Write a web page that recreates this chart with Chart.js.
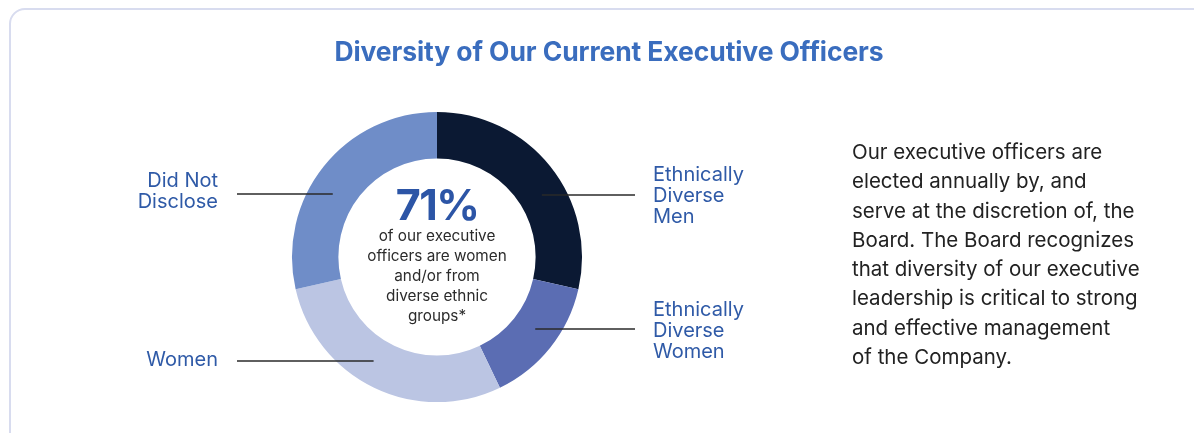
<!DOCTYPE html>
<html>
<head>
<meta charset="utf-8">
<script src="https://cdn.jsdelivr.net/npm/chart.js@4.4.1/dist/chart.umd.min.js"></script>
<style>
  html,body{margin:0;padding:0;background:#fff;width:1194px;height:433px;overflow:hidden;font-family:Inter,"Liberation Sans",sans-serif;}
  .card{position:absolute;left:9px;top:8px;width:1220px;height:460px;border:2px solid #d8dcef;border-radius:16px;box-sizing:border-box;}
  #wrap{position:absolute;left:0;top:0;width:1194px;height:433px;}
  .t{position:absolute;white-space:nowrap;}
  #title{left:0;width:1218px;text-align:center;top:38px;font-size:26.5px;line-height:26.5px;font-weight:700;color:#3a6dbe;letter-spacing:-0.1px;}
  .lbl{font-size:20px;line-height:21px;color:#2f5aa7;}
  .lbl.l{text-align:right;}
  #big{left:337px;width:200px;text-align:center;top:183px;font-size:43px;line-height:43px;font-weight:700;color:#2c55a6;letter-spacing:-1.5px;}
  #sub{left:317px;width:240px;text-align:center;top:226px;font-size:15.3px;line-height:20px;color:#2b2b2b;white-space:normal;}
  #para{left:852px;top:137px;font-size:20.5px;line-height:29.3px;color:#222;}
</style>
</head>
<body>
<div class="card"></div>
<div id="wrap"><canvas id="c"></canvas></div>
<div class="t" id="title">Diversity of Our Current Executive Officers</div>
<div class="t lbl" style="left:653px;top:164px;">Ethnically<br>Diverse<br>Men</div>
<div class="t lbl" style="left:653px;top:299px;">Ethnically<br>Diverse<br>Women</div>
<div class="t lbl l" style="right:976px;top:170px;">Did Not<br>Disclose</div>
<div class="t lbl l" style="right:976px;top:349px;">Women</div>
<div class="t" id="big">71%</div>
<div class="t" id="sub">of our executive<br>officers are women<br>and/or from<br>diverse ethnic<br>groups*</div>
<div class="t" id="para">Our executive officers are<br>elected annually by, and<br>serve at the discretion of, the<br>Board. The Board recognizes<br>that diversity of our executive<br>leadership is critical to strong<br>and effective management<br>of the Company.</div>
<script>
// Data
const categories = ["Ethnically Diverse Men", "Ethnically Diverse Women", "Women", "Did Not Disclose"];
const officerCounts = [2, 1, 2, 2];
const sliceColors = ["#0b1933", "#5b6db3", "#bbc5e3", "#6f8dc8"];

// Leader line layout (y offset from donut centre, side)
const leaderY = [-62, 72, 104, -63];
const leaderSide = [1, 1, -1, -1];

const leaderPlugin = {
  id: 'leaders',
  afterDatasetsDraw(chart) {
    const meta = chart.getDatasetMeta(0);
    const arc = meta.data[0];
    const cx = arc.x, cy = arc.y;
    const rMid = (arc.outerRadius + arc.innerRadius) / 2;
    const ctx = chart.ctx;
    ctx.save();
    ctx.strokeStyle = '#2a2a2a';
    ctx.lineWidth = 1.3;
    leaderY.forEach((dy, i) => {
      const y = cy + dy;
      const dx = Math.sqrt(Math.max(rMid * rMid - dy * dy, 0));
      ctx.beginPath();
      if (leaderSide[i] > 0) {
        ctx.moveTo(cx + dx, y); ctx.lineTo(cx + 198, y);
      } else {
        ctx.moveTo(cx - dx, y); ctx.lineTo(cx - 200, y);
      }
      ctx.stroke();
    });
    ctx.restore();
  }
};

new Chart(document.getElementById('c'), {
  type: 'doughnut',
  data: {
    labels: categories,
    datasets: [{
      data: officerCounts,
      backgroundColor: sliceColors,
      borderWidth: 0
    }]
  },
  options: {
    responsive: true,
    maintainAspectRatio: false,
    animation: false,
    cutout: '68%',
    layout: { padding: { left: 292, right: 612, top: 112, bottom: 31 } },
    plugins: { legend: { display: false }, tooltip: { enabled: false } }
  },
  plugins: [leaderPlugin]
});
</script>
</body>
</html>
